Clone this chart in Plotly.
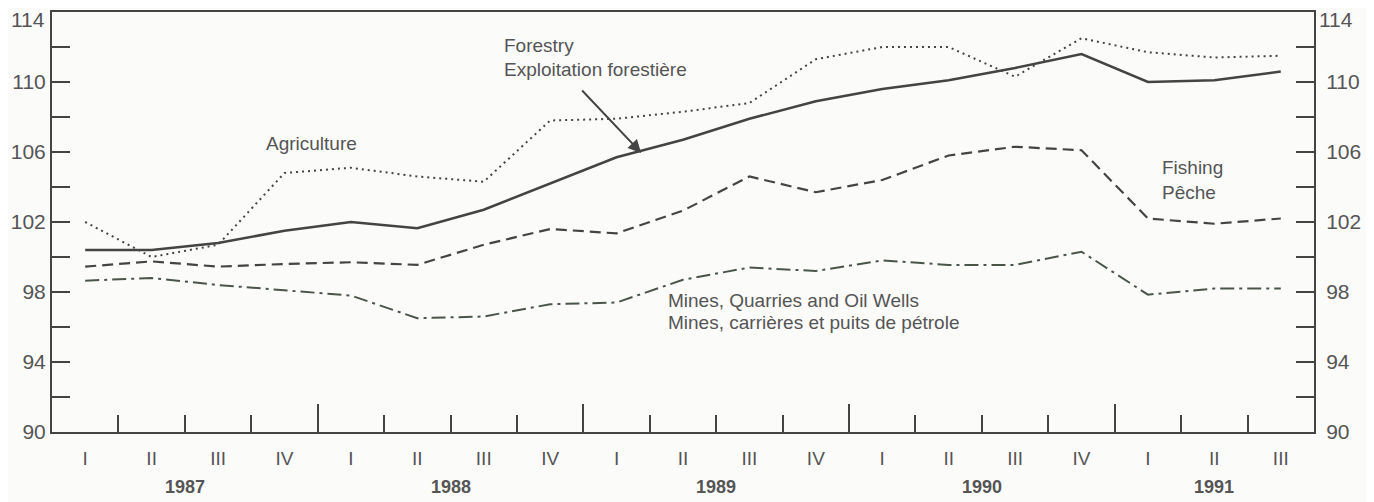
import plotly.graph_objects as go

quarters = ["I", "II", "III", "IV", "I", "II", "III", "IV", "I", "II", "III", "IV",
            "I", "II", "III", "IV", "I", "II", "III"]
years = ["1987", "1988", "1989", "1990", "1991"]
year_center_q = [1.5, 5.5, 9.5, 13.5, 17]
year_bounds = [3.5, 7.5, 11.5, 15.5]

forestry = [100.4, 100.4, 100.8, 101.5, 102.0, 101.65, 102.7, 104.2, 105.7, 106.7,
            107.9, 108.9, 109.6, 110.1, 110.8, 111.6, 110.0, 110.1, 110.6]
agriculture = [102.0, 100.0, 100.7, 104.8, 105.1, 104.6, 104.3, 107.8, 107.9, 108.3,
               108.8, 111.3, 112.0, 112.0, 110.3, 112.5, 111.7, 111.4, 111.5]
fishing = [99.45, 99.75, 99.45, 99.6, 99.7, 99.55, 100.7, 101.6, 101.35, 102.65,
           104.6, 103.7, 104.4, 105.8, 106.3, 106.1, 102.2, 101.9, 102.2]
mines = [98.65, 98.8, 98.4, 98.1, 97.8, 96.5, 96.6, 97.3, 97.4, 98.7,
         99.4, 99.2, 99.8, 99.55, 99.55, 100.3, 97.85, 98.2, 98.2]

x = list(range(len(quarters)))
ytick_major = [90, 94, 98, 102, 106, 110, 114]
ytick_text = ["90", "94", "98", "102", "106", "110", ""]
top_label = "114"
ytick_minor = [92, 96, 100, 104, 108, 112]
bounds = [i + 0.5 for i in range(len(quarters) - 1)]

LINE = "#444444"
TXT = "#555555"
FONT = "Liberation Sans, Arial, sans-serif"
TS = 19
TK = 21

fig = go.Figure()
fig.add_trace(go.Scatter(x=x, y=agriculture, mode="lines", name="Agriculture",
                         line=dict(color=LINE, width=2, dash="2px,4px")))
fig.add_trace(go.Scatter(x=x, y=fishing, mode="lines", name="Fishing",
                         line=dict(color=LINE, width=2.2, dash="11px,6px")))
fig.add_trace(go.Scatter(x=x, y=mines, mode="lines", name="Mines",
                         line=dict(color="#4a554a", width=2, dash="14px,5px,3px,5px")))
fig.add_trace(go.Scatter(x=x, y=forestry, mode="lines", name="Forestry",
                         line=dict(color=LINE, width=2.5)))
# invisible trace to carry the secondary axes
fig.add_trace(go.Scatter(x=x, y=forestry, mode="lines", xaxis="x2", yaxis="y2",
                         opacity=0, hoverinfo="skip", showlegend=False,
                         line=dict(width=0)))

xr = [-0.5, len(quarters) - 0.5]
yr = [90, 114]

fig.update_layout(
    width=1366, height=494,
    margin=dict(l=44, r=60, t=4, b=70, autoexpand=False),
    paper_bgcolor="#fbfbfa", plot_bgcolor="#fbfbfa",
    showlegend=False,
    font=dict(family=FONT, color=TXT, size=TS),
    xaxis=dict(range=xr, tickmode="array", tickvals=x, ticktext=quarters,
               ticks="", showgrid=False, zeroline=False, automargin=False,
               showline=True, linecolor=LINE, linewidth=2, mirror=True,
               ticklabelstandoff=8,
               tickfont=dict(size=TS, color=TXT),
               minor=dict(tickmode="array", tickvals=bounds, ticks="inside",
                          ticklen=17, tickwidth=2, tickcolor=LINE, showgrid=False)),
    xaxis2=dict(range=xr, overlaying="x", side="bottom", tickmode="array",
                tickvals=year_bounds, ticks="inside", ticklen=28, tickwidth=2,
                tickcolor=LINE, showticklabels=False, showgrid=False,
                zeroline=False, showline=False, automargin=False),
    yaxis=dict(range=yr, tickmode="array", tickvals=ytick_major, ticktext=ytick_text,
               ticks="inside", ticklen=18, tickwidth=2, tickcolor=LINE,
               showgrid=False, zeroline=False,
               showline=True, linecolor=LINE, linewidth=2, automargin=False,
               tickfont=dict(size=TK, color=TXT),
               minor=dict(tickmode="array", tickvals=ytick_minor, ticks="inside",
                          ticklen=18, tickwidth=2, tickcolor=LINE, showgrid=False)),
    yaxis2=dict(range=yr, overlaying="y", side="right", tickmode="array",
                tickvals=ytick_major, ticktext=ytick_text, ticks="inside", ticklen=18,
                tickwidth=2, tickcolor=LINE, showgrid=False, zeroline=False,
                automargin=False, showline=True, linecolor=LINE, linewidth=2,
                ticklabelstandoff=6,
                tickfont=dict(size=TK, color=TXT),
                minor=dict(tickmode="array", tickvals=ytick_minor, ticks="inside",
                           ticklen=18, tickwidth=2, tickcolor=LINE, showgrid=False)),
)

# top value labels kept inside the page so they are not clipped
fig.add_annotation(x=0, xref="paper", y=113.6, yref="y", text=top_label, showarrow=False,
                   xanchor="right", yanchor="middle", xshift=-6, borderpad=0,
                   font=dict(size=TK, color=TXT))
fig.add_annotation(x=1, xref="paper", y=113.6, yref="y", text=top_label, showarrow=False,
                   xanchor="left", yanchor="middle", xshift=4, borderpad=0,
                   font=dict(size=TK, color=TXT))

for yl, xc in zip(years, year_center_q):
    fig.add_annotation(x=xc, y=-0.131, xref="x", yref="paper", text="<b>%s</b>" % yl,
                       showarrow=False, font=dict(size=18, color=TXT),
                       xanchor="center", yanchor="middle")

labels = [
    ("Agriculture", 3.4, 106.5, "center"),
    ("Forestry", 6.27, 112.1, "left"),
    ("Exploitation forestière", 6.27, 110.7, "left"),
    ("Fishing", 16.18, 105.1, "left"),
    ("Pêche", 16.18, 103.66, "left"),
    ("Mines, Quarries and Oil Wells", 8.75, 97.54, "left"),
    ("Mines, carrières et puits de pétrole", 8.75, 96.23, "left"),
]
for t, xx, yy, anc in labels:
    fig.add_annotation(x=xx, y=yy, text=t, showarrow=False, xanchor=anc,
                       yanchor="middle", font=dict(size=TS, color=TXT))

fig.add_annotation(x=8.37, y=105.95, ax=7.46, ay=109.6, axref="x", ayref="y",
                   text="", showarrow=True, arrowhead=2, arrowsize=1.3,
                   arrowwidth=2, arrowcolor=LINE)

fig.write_html("out.html")
